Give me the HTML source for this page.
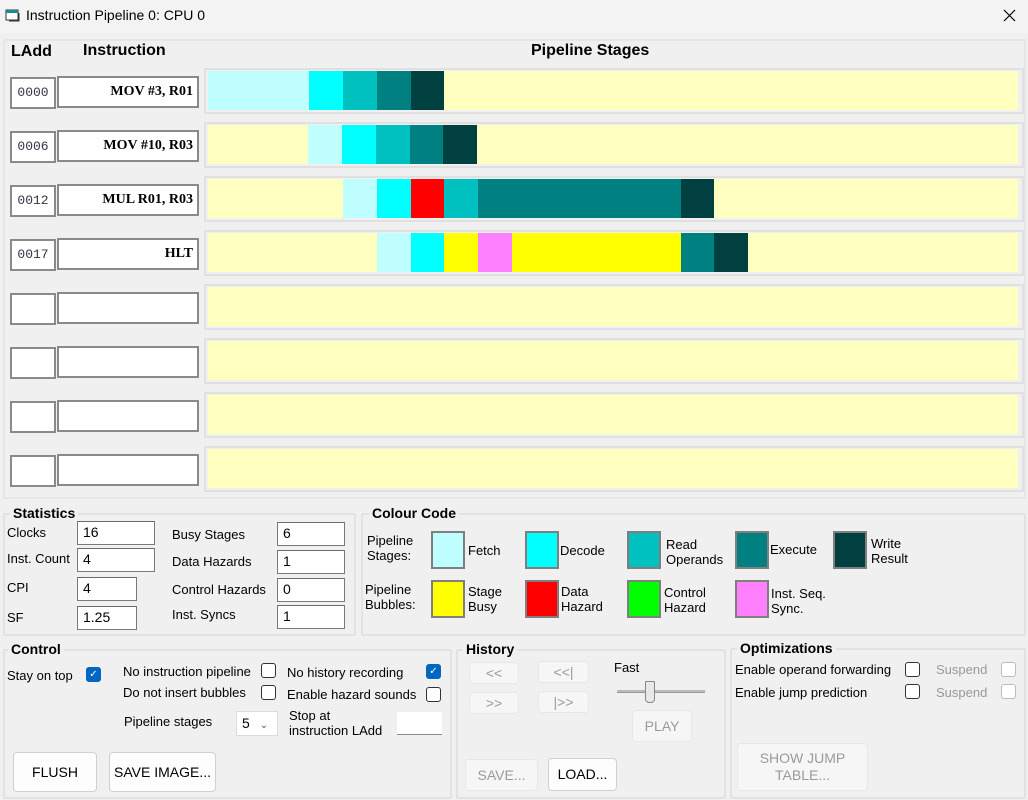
<!DOCTYPE html>
<html><head><meta charset="utf-8"><style>
*{box-sizing:border-box;margin:0;padding:0}
body{width:1028px;height:800px;background:#f0f0f0;font-family:"Liberation Sans",sans-serif;font-size:13px;color:#000;position:relative;overflow:hidden}
.a{position:absolute}
.t{position:absolute;white-space:nowrap;line-height:15px}
.gb{position:absolute;border:2px solid #e2e2e2;border-radius:2px}
.h{position:absolute;background:#f0f0f0;font-weight:bold;font-size:14px;padding:0 3px;line-height:16px}
.tb{position:absolute;background:#fff;border:1px solid #7a7a7a;border-top-color:#6a6a6a;padding-left:5px;font-size:14px;line-height:20px}
.ib{position:absolute;background:#fff;border:2px solid #8a8a8a;font-family:"Liberation Serif",serif;font-weight:bold;font-size:14px;text-align:right;padding-right:4px;line-height:28px;height:32px}
.la{position:absolute;background:#fff;border:2px solid #8a8a8a;font-family:"Liberation Mono",monospace;font-size:13px;color:#334;text-align:center;line-height:28px;height:32px;width:46px;left:10px}
.row{position:absolute;left:204px;width:820px;height:46px;border:2px solid #e0e0e0}
.bar{position:absolute;left:2px;top:1px;right:4px;height:39px;background:#ffffc0}
.s{position:absolute;top:0;height:39px}
.sw{position:absolute;border:2px solid #7f7f7f;width:34px;height:38px}
.cb{position:absolute;width:15px;height:15px;border:1px solid #333;border-radius:3px;background:#fff}
.cb.on{background:#0067c0;border-color:#0067c0;color:#fff;font-size:10px;text-align:center;line-height:13px}
.cb.dis{border-color:#bbb}
.btn{position:absolute;background:#fdfdfd;border:1px solid #d0d0d0;border-radius:4px;text-align:center;font-size:14px}
.btn.d{background:#f6f6f6;border-color:#e8e8e8;color:#9a9a9a}
</style></head><body>
<div class="a" style="left:0;top:0;width:1028px;height:33px;background:#f3f3f3"></div>
<svg class="a" style="left:5px;top:8px" width="16" height="15"><rect x="1" y="2" width="12" height="10" fill="#fff" stroke="#333"/><rect x="1" y="2" width="12" height="3" fill="#1a8a9a"/><path d="M4 13h10V5" fill="none" stroke="#333"/></svg>
<div class="t" style="left:26px;top:8px;font-size:14px">Instruction Pipeline 0: CPU 0</div>
<svg class="a" style="left:1003px;top:9px" width="13" height="13"><path d="M1 1L12 12M12 1L1 12" stroke="#000" stroke-width="1.2"/></svg>

<div class="gb" style="left:3px;top:39px;width:1023px;height:460px;border-color:#e6e6e6"></div>
<div class="t" style="left:11px;top:44px;font-weight:bold;font-size:16px">LAdd</div>
<div class="t" style="left:83px;top:43px;font-weight:bold;font-size:16px">Instruction</div>
<div class="t" style="left:531px;top:43px;font-weight:bold;font-size:16px">Pipeline Stages</div>

<div class="la" style="top:77px">0000</div><div class="ib" style="left:57px;top:76px;width:142px">MOV #3, R01</div>
<div class="row" style="top:68px"><div class="bar">
<div class="s" style="left:0;width:101px;background:#c0ffff"></div>
<div class="s" style="left:101px;width:34px;background:#00ffff"></div>
<div class="s" style="left:135px;width:34px;background:#00c0c0"></div>
<div class="s" style="left:169px;width:34px;background:#008080"></div>
<div class="s" style="left:203px;width:33px;background:#004040"></div>
</div></div>

<div class="la" style="top:131px">0006</div><div class="ib" style="left:57px;top:130px;width:142px">MOV #10, R03</div>
<div class="row" style="top:122px"><div class="bar">
<div class="s" style="left:100px;width:34px;background:#c0ffff"></div>
<div class="s" style="left:134px;width:34px;background:#00ffff"></div>
<div class="s" style="left:168px;width:34px;background:#00c0c0"></div>
<div class="s" style="left:202px;width:33px;background:#008080"></div>
<div class="s" style="left:235px;width:34px;background:#004040"></div>
</div></div>

<div class="la" style="top:185px">0012</div><div class="ib" style="left:57px;top:184px;width:142px">MUL R01, R03</div>
<div class="row" style="top:176px"><div class="bar">
<div class="s" style="left:135px;width:34px;background:#c0ffff"></div>
<div class="s" style="left:169px;width:34px;background:#00ffff"></div>
<div class="s" style="left:203px;width:33px;background:#ff0000"></div>
<div class="s" style="left:236px;width:34px;background:#00c0c0"></div>
<div class="s" style="left:270px;width:203px;background:#008080"></div>
<div class="s" style="left:473px;width:33px;background:#004040"></div>
</div></div>

<div class="la" style="top:239px">0017</div><div class="ib" style="left:57px;top:238px;width:142px">HLT</div>
<div class="row" style="top:230px"><div class="bar">
<div class="s" style="left:169px;width:34px;background:#c0ffff"></div>
<div class="s" style="left:203px;width:33px;background:#00ffff"></div>
<div class="s" style="left:236px;width:34px;background:#ffff00"></div>
<div class="s" style="left:270px;width:34px;background:#ff80ff"></div>
<div class="s" style="left:304px;width:169px;background:#ffff00"></div>
<div class="s" style="left:473px;width:33px;background:#008080"></div>
<div class="s" style="left:506px;width:34px;background:#004040"></div>
</div></div>

<div class="la" style="top:293px"></div><div class="ib" style="left:57px;top:292px;width:142px"></div>
<div class="row" style="top:284px"><div class="bar"></div></div>
<div class="la" style="top:347px"></div><div class="ib" style="left:57px;top:346px;width:142px"></div>
<div class="row" style="top:338px"><div class="bar"></div></div>
<div class="la" style="top:401px"></div><div class="ib" style="left:57px;top:400px;width:142px"></div>
<div class="row" style="top:392px"><div class="bar"></div></div>
<div class="la" style="top:455px"></div><div class="ib" style="left:57px;top:454px;width:142px"></div>
<div class="row" style="top:446px"><div class="bar"></div></div>

<div class="gb" style="left:3px;top:513px;width:353px;height:123px"></div>
<div class="h" style="left:10px;top:505px">Statistics</div>
<div class="t" style="left:7px;top:525px">Clocks</div><div class="tb" style="left:77px;top:521px;width:78px;height:24px">16</div>
<div class="t" style="left:7px;top:551px">Inst. Count</div><div class="tb" style="left:77px;top:548px;width:78px;height:24px">4</div>
<div class="t" style="left:7px;top:580px">CPI</div><div class="tb" style="left:77px;top:577px;width:60px;height:24px">4</div>
<div class="t" style="left:7px;top:610px">SF</div><div class="tb" style="left:77px;top:606px;width:60px;height:24px">1.25</div>
<div class="t" style="left:172px;top:527px">Busy Stages</div><div class="tb" style="left:277px;top:522px;width:68px;height:24px">6</div>
<div class="t" style="left:172px;top:554px">Data Hazards</div><div class="tb" style="left:277px;top:550px;width:68px;height:24px">1</div>
<div class="t" style="left:172px;top:582px">Control Hazards</div><div class="tb" style="left:277px;top:578px;width:68px;height:24px">0</div>
<div class="t" style="left:172px;top:607px">Inst. Syncs</div><div class="tb" style="left:277px;top:605px;width:68px;height:24px">1</div>

<div class="gb" style="left:361px;top:513px;width:665px;height:123px"></div>
<div class="h" style="left:369px;top:505px">Colour Code</div>
<div class="t" style="left:367px;top:533px">Pipeline<br>Stages:</div>
<div class="t" style="left:365px;top:582px">Pipeline<br>Bubbles:</div>
<div class="sw" style="left:431px;top:531px;background:#c0ffff"></div><div class="t" style="left:468px;top:543px">Fetch</div>
<div class="sw" style="left:525px;top:531px;background:#00ffff"></div><div class="t" style="left:560px;top:543px">Decode</div>
<div class="sw" style="left:627px;top:531px;background:#00c0c0"></div><div class="t" style="left:666px;top:537px">Read<br>Operands</div>
<div class="sw" style="left:735px;top:531px;background:#008080"></div><div class="t" style="left:770px;top:542px">Execute</div>
<div class="sw" style="left:833px;top:531px;background:#004040"></div><div class="t" style="left:871px;top:536px">Write<br>Result</div>
<div class="sw" style="left:431px;top:580px;background:#ffff00"></div><div class="t" style="left:468px;top:584px">Stage<br>Busy</div>
<div class="sw" style="left:525px;top:580px;background:#ff0000"></div><div class="t" style="left:561px;top:584px">Data<br>Hazard</div>
<div class="sw" style="left:627px;top:580px;background:#00ff00"></div><div class="t" style="left:664px;top:585px">Control<br>Hazard</div>
<div class="sw" style="left:735px;top:580px;background:#ff80ff"></div><div class="t" style="left:771px;top:586px">Inst. Seq.<br>Sync.</div>

<div class="gb" style="left:3px;top:649px;width:449px;height:150px"></div>
<div class="h" style="left:8px;top:641px">Control</div>
<div class="t" style="left:7px;top:668px">Stay on top</div><div class="cb on" style="left:86px;top:667px">✓</div>
<div class="t" style="left:123px;top:664px">No instruction pipeline</div><div class="cb" style="left:261px;top:663px"></div>
<div class="t" style="left:123px;top:685px">Do not insert bubbles</div><div class="cb" style="left:261px;top:685px"></div>
<div class="t" style="left:287px;top:665px">No history recording</div><div class="cb on" style="left:426px;top:664px">✓</div>
<div class="t" style="left:287px;top:687px">Enable hazard sounds</div><div class="cb" style="left:426px;top:687px"></div>
<div class="t" style="left:124px;top:714px">Pipeline stages</div>
<div class="a" style="left:236px;top:711px;width:42px;height:25px;background:#fff;border:1px solid #ddd;font-size:14px;line-height:23px;padding-left:5px">5 <span style="font-size:10px;color:#555;margin-left:6px">&#8964;</span></div>
<div class="t" style="left:289px;top:708px">Stop at<br>instruction LAdd</div>
<div class="a" style="left:397px;top:712px;width:45px;height:23px;background:#fff;border-bottom:1px solid #888"></div>
<div class="btn" style="left:13px;top:752px;width:84px;height:40px;line-height:38px">FLUSH</div>
<div class="btn" style="left:109px;top:752px;width:107px;height:40px;line-height:38px">SAVE IMAGE...</div>

<div class="gb" style="left:456px;top:649px;width:270px;height:150px"></div>
<div class="h" style="left:463px;top:641px">History</div>
<div class="btn d" style="left:469px;top:662px;width:50px;height:22px;line-height:20px">&lt;&lt;</div>
<div class="btn d" style="left:538px;top:661px;width:51px;height:22px;line-height:20px">&lt;&lt;|</div>
<div class="btn d" style="left:469px;top:692px;width:50px;height:22px;line-height:20px">&gt;&gt;</div>
<div class="btn d" style="left:538px;top:691px;width:51px;height:22px;line-height:20px">|&gt;&gt;</div>
<div class="t" style="left:614px;top:660px">Fast</div>
<div class="a" style="left:617px;top:690px;width:88px;height:3px;background:#bbb;border-bottom:1px solid #999"></div>
<div class="a" style="left:645px;top:681px;width:10px;height:22px;background:#e8e8e8;border:1px solid #888;border-radius:1px 1px 4px 4px"></div>
<div class="btn d" style="left:632px;top:710px;width:60px;height:32px;line-height:30px">PLAY</div>
<div class="btn d" style="left:465px;top:759px;width:73px;height:32px;line-height:30px">SAVE...</div>
<div class="btn" style="left:548px;top:758px;width:69px;height:33px;line-height:31px">LOAD...</div>

<div class="gb" style="left:730px;top:648px;width:296px;height:151px"></div>
<div class="h" style="left:737px;top:640px">Optimizations</div>
<div class="t" style="left:735px;top:662px">Enable operand forwarding</div><div class="cb" style="left:905px;top:662px"></div>
<div class="t" style="left:936px;top:662px;color:#999">Suspend</div><div class="cb dis" style="left:1001px;top:662px"></div>
<div class="t" style="left:735px;top:685px">Enable jump prediction</div><div class="cb" style="left:905px;top:684px"></div>
<div class="t" style="left:936px;top:685px;color:#999">Suspend</div><div class="cb dis" style="left:1001px;top:684px"></div>
<div class="btn d" style="left:737px;top:743px;width:131px;height:48px;line-height:17px;padding-top:6px">SHOW JUMP<br>TABLE...</div>
</body></html>
